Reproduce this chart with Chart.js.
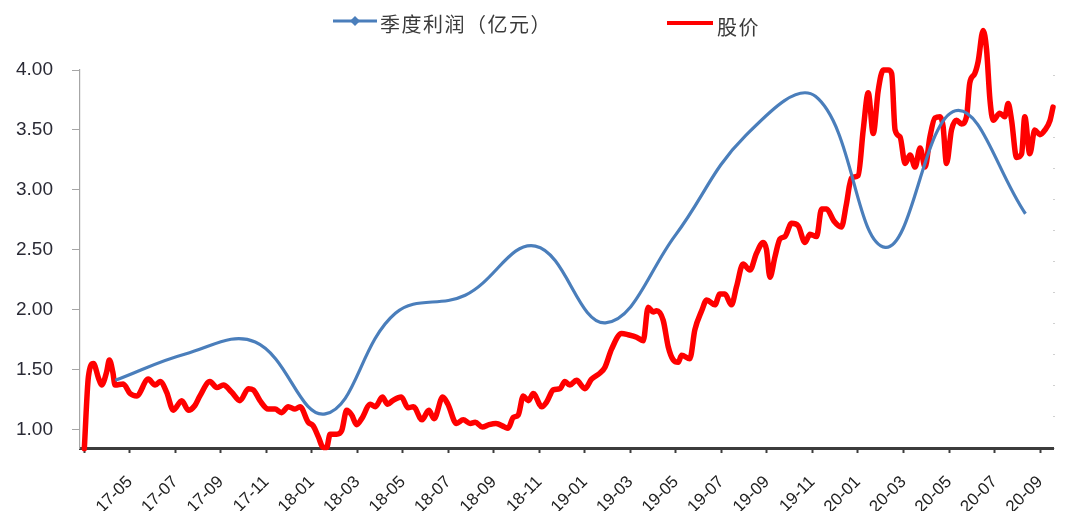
<!DOCTYPE html>
<html>
<head>
<meta charset="utf-8">
<script src="https://cdn.jsdelivr.net/npm/chart.js@4.4.0/dist/chart.umd.min.js"></script>
<style>
  html, body { margin: 0; padding: 0; background: #ffffff; }
  #wrap { width: 1065px; height: 511px; }
</style>
</head>
<body>
<div id="wrap"><canvas id="c" width="1065" height="511"></canvas></div>
<script>
// ---- data (x in months counted from 2017-03) ----
const seriesNames = ['季度利润（亿元）', '股价'];

const profitMonths = [1.36, 4.44, 7.51, 10.59, 13.67, 16.74, 19.82, 22.9, 25.97, 29.05, 32.13, 35.2, 38.28, 41.36];
const profitValues = [1.41, 1.63, 1.73, 1.13, 1.97, 2.12, 2.53, 1.89, 2.62, 3.45, 3.78, 2.52, 3.66, 2.80];

const priceMonths = [0.00,0.18,0.40,0.62,0.76,0.98,1.10,1.25,1.35,1.71,2.01,2.30,2.81,3.11,3.33,3.62,3.91,4.28,4.57,4.86,5.08,5.52,5.82,6.11,6.48,6.84,7.21,7.43,7.72,8.08,8.38,8.67,8.96,9.26,9.48,9.84,10.06,10.28,10.50,10.65,10.80,11.09,11.31,11.53,11.75,11.97,12.19,12.57,12.79,13.10,13.33,13.55,13.93,14.23,14.46,14.84,15.14,15.37,15.75,15.98,16.35,16.65,16.96,17.18,17.49,17.79,18.09,18.47,18.62,18.85,19.07,19.29,19.51,19.73,20.10,20.32,20.61,20.90,21.12,21.34,21.63,22.00,22.29,22.66,22.88,23.17,23.61,23.90,24.27,24.56,24.78,25.00,25.15,25.44,25.66,25.88,26.10,26.25,26.61,26.83,27.13,27.35,27.71,27.93,28.15,28.44,28.66,28.95,29.25,29.54,29.83,29.98,30.13,30.35,30.57,30.79,31.08,31.37,31.67,31.89,32.18,32.40,32.62,32.94,33.27,33.49,33.71,34.01,34.23,34.45,34.67,34.89,35.11,35.33,35.48,35.63,35.85,36.07,36.29,36.51,36.73,36.95,37.16,37.38,37.61,37.74,37.89,38.11,38.33,38.55,38.77,38.91,39.13,39.28,39.50,39.65,39.80,39.94,40.23,40.45,40.60,40.75,40.97,41.19,41.33,41.55,41.77,41.99,42.22,42.44,42.57];
const priceValues = [0.84,1.44,1.55,1.43,1.37,1.48,1.58,1.48,1.37,1.38,1.30,1.28,1.42,1.37,1.40,1.31,1.16,1.24,1.16,1.20,1.28,1.40,1.35,1.37,1.31,1.24,1.34,1.33,1.24,1.17,1.17,1.14,1.19,1.17,1.19,1.06,1.03,0.94,0.85,0.85,0.96,0.96,0.99,1.16,1.12,1.04,1.09,1.21,1.19,1.27,1.21,1.24,1.27,1.18,1.19,1.08,1.16,1.09,1.27,1.21,1.05,1.08,1.05,1.06,1.02,1.04,1.05,1.02,1.01,1.10,1.12,1.28,1.24,1.30,1.19,1.23,1.33,1.34,1.40,1.37,1.41,1.34,1.42,1.47,1.52,1.67,1.80,1.79,1.77,1.74,2.02,1.98,1.99,1.91,1.69,1.58,1.56,1.62,1.59,1.83,1.99,2.08,2.04,2.13,2.13,2.04,2.19,2.38,2.33,2.47,2.56,2.50,2.27,2.44,2.59,2.61,2.72,2.70,2.56,2.63,2.61,2.84,2.84,2.74,2.69,2.88,3.10,3.12,3.50,3.81,3.47,3.83,4.00,4.00,3.97,3.50,3.44,3.22,3.29,3.19,3.35,3.19,3.44,3.60,3.61,3.53,3.22,3.50,3.58,3.55,3.61,3.89,3.97,4.07,4.33,4.17,3.75,3.58,3.64,3.61,3.72,3.58,3.27,3.30,3.61,3.30,3.50,3.46,3.50,3.58,3.69];

const xTickMonths = [0,2,4,6,8,10,12,14,16,18,20,22,24,26,28,30,32,34,36,38,40,42];
const xTickLabels = ['','17-05','17-07','17-09','17-11','18-01','18-03','18-05','18-07','18-09','18-11','19-01','19-03','19-05','19-07','19-09','19-11','20-01','20-03','20-05','20-07','20-09'];
const yTickValues = [1.00, 1.50, 2.00, 2.50, 3.00, 3.50, 4.00];

// ---- styling ----
const BLUE = '#4a7ebb';
const RED = '#ff0000';

const profitPts = profitMonths.map((m, i) => ({x: m, y: profitValues[i]}));
const pricePts = priceMonths.map((m, i) => ({x: m, y: priceValues[i]}));

const legendPlugin = {
  id: 'topLegend',
  afterDraw(chart) {
    const ctx = chart.ctx;
    const ds = chart.data.datasets;
    ctx.save();
    // item 1: line with diamond marker
    ctx.strokeStyle = ds[0].borderColor;
    ctx.lineWidth = 3;
    ctx.beginPath(); ctx.moveTo(333, 21); ctx.lineTo(377, 21); ctx.stroke();
    ctx.fillStyle = ds[0].borderColor;
    ctx.beginPath();
    ctx.moveTo(355, 16); ctx.lineTo(360, 21); ctx.lineTo(355, 26); ctx.lineTo(350, 21);
    ctx.closePath(); ctx.fill();
    ctx.font = '20px "Noto Sans CJK SC"';
    ctx.fillStyle = '#3a3a3a';
    ctx.textBaseline = 'middle';
    ctx.textAlign = 'left';
    try { ctx.letterSpacing = '1.5px'; } catch (e) {}
    ctx.fillText(ds[0].label, 380, 24);
    // item 2: red line
    ctx.strokeStyle = ds[1].borderColor;
    ctx.lineWidth = 4;
    ctx.beginPath(); ctx.moveTo(667, 23); ctx.lineTo(713, 23); ctx.stroke();
    ctx.fillText(ds[1].label, 717, 27);
    ctx.restore();
  }
};

new Chart(document.getElementById('c'), {
  type: 'line',
  data: {
    datasets: [
      {
        label: seriesNames[0],
        data: profitPts,
        borderColor: BLUE,
        backgroundColor: BLUE,
        borderWidth: 3.2,
        pointRadius: 0,
        tension: 0.4,
        fill: false,
        yAxisID: 'y'
      },
      {
        label: seriesNames[1],
        data: pricePts,
        borderColor: RED,
        backgroundColor: RED,
        borderWidth: 5.5,
        pointRadius: 0,
        cubicInterpolationMode: 'monotone',
        capBezierPoints: false,
        borderJoinStyle: 'round',
        borderCapStyle: 'round',
        fill: false,
        clip: false,
        yAxisID: 'y'
      }
    ]
  },
  options: {
    responsive: false,
    animation: false,
    events: [],
    layout: { padding: { left: 0, right: 0, top: 70, bottom: 0 } },
    plugins: {
      legend: { display: false },
      tooltip: { enabled: false },
      title: { display: false }
    },
    scales: {
      x: {
        type: 'linear',
        min: -0.19,
        max: 42.57,
        afterBuildTicks: (s) => { s.ticks = xTickMonths.map(v => ({value: v})); },
        afterFit: (s) => { s.height = 63; s.paddingLeft = 0; s.paddingRight = 0; },
        border: { display: true, color: '#3c3c3c', width: 3 },
        grid: { drawOnChartArea: false, drawTicks: true, tickLength: 5, tickWidth: 2, tickColor: '#3c3c3c' },
        ticks: {
          autoSkip: false,
          minRotation: 45,
          maxRotation: 45,
          padding: 19,
          color: '#222222',
          font: { family: '"Liberation Sans", Arial, sans-serif', size: 17 },
          callback: (v) => {
            const i = xTickMonths.indexOf(v);
            return i >= 0 ? xTickLabels[i] : '';
          }
        }
      },
      y: {
        type: 'linear',
        position: 'left',
        min: 0.845,
        max: 4.0,
        afterBuildTicks: (s) => { s.ticks = yTickValues.map(v => ({value: v})); },
        afterFit: (s) => { s.width = 80; },
        border: { display: true, color: '#a6a6a6', width: 1.2 },
        grid: { drawOnChartArea: false, drawTicks: true, tickLength: 8, tickColor: '#a6a6a6' },
        ticks: {
          padding: 19,
          color: '#2a2a35',
          font: { family: '"Liberation Sans", Arial, sans-serif', size: 19 },
          callback: (v) => Number(v).toFixed(2)
        }
      },
      y2: {
        type: 'linear',
        position: 'right',
        min: 0,
        max: 12.19,
        afterBuildTicks: (s) => { const t = []; for (let i = 0; i <= 12; i++) t.push({value: i}); s.ticks = t; },
        afterFit: (s) => { s.width = 12; },
        border: { display: false },
        grid: { drawOnChartArea: false, drawTicks: true, tickLength: 2, tickColor: '#d0d0d0' },
        ticks: { display: false }
      }
    }
  },
  plugins: [legendPlugin]
});
</script>
</body>
</html>
